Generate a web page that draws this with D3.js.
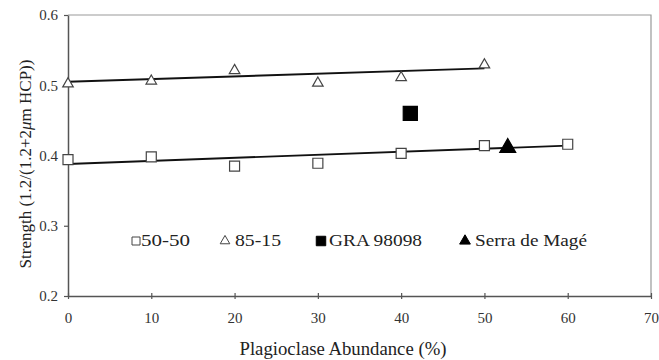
<!DOCTYPE html>
<html>
<head>
<meta charset="utf-8">
<script src="https://cdn.jsdelivr.net/npm/d3@7"></script>
<style>
  body { margin: 0; background: #fff; }
  svg text { font-family: "Liberation Serif", "DejaVu Serif", serif; }
</style>
</head>
<body>
<svg id="chart" width="659" height="360"></svg>
<script>
// plagioclase abundance (%) for the two mixture series
const mixX = [0, 10, 20, 30, 40, 50, 60];
const strength5050 = [0.394, 0.398, 0.385, 0.389, 0.403, 0.414, 0.416];
const mix8515X = [0, 10, 20, 30, 40, 50];
const strength8515 = [0.502, 0.506, 0.521, 0.503, 0.511, 0.529];

// meteorites
const graX = [41.1];
const graY = [0.460];
const serraX = [52.8];
const serraY = [0.411];

// linear fits, [x, y] end points
const fit5050 = [[0, 0.388], [60, 0.414]];
const fit8515 = [[0, 0.505], [50, 0.524]];

const xTicks = [0, 10, 20, 30, 40, 50, 60, 70];
const yTicks = [0.2, 0.3, 0.4, 0.5, 0.6];
const legendNames = ['50-50', '85-15', 'GRA 98098', 'Serra de Magé'];

const FONT = '"Liberation Serif", "DejaVu Serif", serif';

const svg = d3.select('#chart');
const margin = { top: 15, right: 8, bottom: 64, left: 68 };
const width = +svg.attr('width') - margin.left - margin.right;
const height = +svg.attr('height') - margin.top - margin.bottom;

const g = svg.append('g')
  .attr('transform', 'translate(' + margin.left + ',' + margin.top + ')');

const x = d3.scaleLinear().domain([0, 70]).range([0, width]);
const y = d3.scaleLinear().domain([0.2, 0.6]).range([height, 0]);

// light frame on top and right
g.append('path')
  .attr('d', 'M0,0H' + width + 'V' + height)
  .attr('fill', 'none')
  .attr('stroke', '#999')
  .attr('stroke-width', 1.2);

const xAxis = g.append('g')
  .attr('transform', 'translate(0,' + height + ')')
  .call(d3.axisBottom(x).tickValues(xTicks).tickFormat(d3.format('d')).tickSize(4).tickSizeOuter(0));
xAxis.selectAll('.tick line').attr('y1', -3).attr('y2', 3);

const yAxis = g.append('g')
  .call(d3.axisLeft(y).tickValues(yTicks).tickFormat(d3.format('.1f')).tickSize(4).tickSizeOuter(0));

[xAxis, yAxis].forEach(function(a) {
  a.attr('font-family', FONT);
  a.select('.domain').attr('stroke', '#555').attr('stroke-width', 1.5);
  a.selectAll('.tick line').attr('stroke', '#555').attr('stroke-width', 1.2);
  a.selectAll('.tick text')
    .attr('font-size', 15)
    .attr('fill', '#333');
});
xAxis.selectAll('.tick text').attr('y', 22).attr('dy', '0.32em');
yAxis.selectAll('.tick text').attr('x', -10);

// trend lines
const line = d3.line().x(d => x(d[0])).y(d => y(d[1]));
[fit5050, fit8515].forEach(function(f) {
  g.append('path')
    .attr('d', line(f))
    .attr('fill', 'none')
    .attr('stroke', '#111')
    .attr('stroke-width', 1.9);
});

function points(xs, ys, sym, filled) {
  g.append('g')
    .selectAll('path')
    .data(xs.map((v, i) => [v, ys[i]]))
    .enter()
    .append('path')
    .attr('transform', d => 'translate(' + x(d[0]) + ',' + y(d[1]) + ')')
    .attr('d', sym)
    .attr('fill', filled ? '#000' : '#fff')
    .attr('stroke', filled ? '#000' : '#444')
    .attr('stroke-width', 1.2);
}

points(mixX, strength5050, d3.symbol().type(d3.symbolSquare).size(100), false);
points(mix8515X, strength8515, d3.symbol().type(d3.symbolTriangle).size(48), false);
points(graX, graY, d3.symbol().type(d3.symbolSquare).size(200), true);
points(serraX, serraY, d3.symbol().type(d3.symbolTriangle).size(110), true);

// legend
const legendX = [136, 225, 321, 465];
const legendTextDx = [5, 10, 8, 10];
const legendTextLen = [49, 46, 93, 112];
const legendSyms = [
  { s: d3.symbol().type(d3.symbolSquare).size(64), f: false },
  { s: d3.symbol().type(d3.symbolTriangle).size(40), f: false },
  { s: d3.symbol().type(d3.symbolSquare).size(90), f: true },
  { s: d3.symbol().type(d3.symbolTriangle).size(50), f: true }
];
const legend = svg.append('g')
  .selectAll('g')
  .data(legendNames)
  .enter()
  .append('g')
  .attr('transform', (d, i) => 'translate(' + legendX[i] + ',241)');

legend.append('path')
  .attr('d', (d, i) => legendSyms[i].s())
  .attr('fill', (d, i) => legendSyms[i].f ? '#000' : '#fff')
  .attr('stroke', (d, i) => legendSyms[i].f ? '#000' : '#444')
  .attr('stroke-width', 1);

legend.append('text')
  .attr('x', (d, i) => legendTextDx[i])
  .attr('y', 5)
  .attr('font-family', FONT)
  .attr('font-size', 17)
  .attr('textLength', (d, i) => legendTextLen[i])
  .attr('lengthAdjust', 'spacingAndGlyphs')
  .attr('fill', '#222')
  .text(d => d);

// axis titles
svg.append('text')
  .attr('x', 343)
  .attr('y', 355)
  .attr('text-anchor', 'middle')
  .attr('font-family', FONT)
  .attr('font-size', 18)
  .attr('textLength', 207)
  .attr('lengthAdjust', 'spacingAndGlyphs')
  .attr('fill', '#222')
  .text('Plagioclase Abundance (%)');

const yt = svg.append('text')
  .attr('transform', 'translate(31,164) rotate(-90)')
  .attr('text-anchor', 'middle')
  .attr('font-family', FONT)
  .attr('font-size', 17)
  .attr('fill', '#222');
yt.append('tspan').text('Strength (1.2/(1.2+2');
yt.append('tspan').attr('font-style', 'italic').text('μ');
yt.append('tspan').text('m HCP))');
</script>
</body>
</html>
